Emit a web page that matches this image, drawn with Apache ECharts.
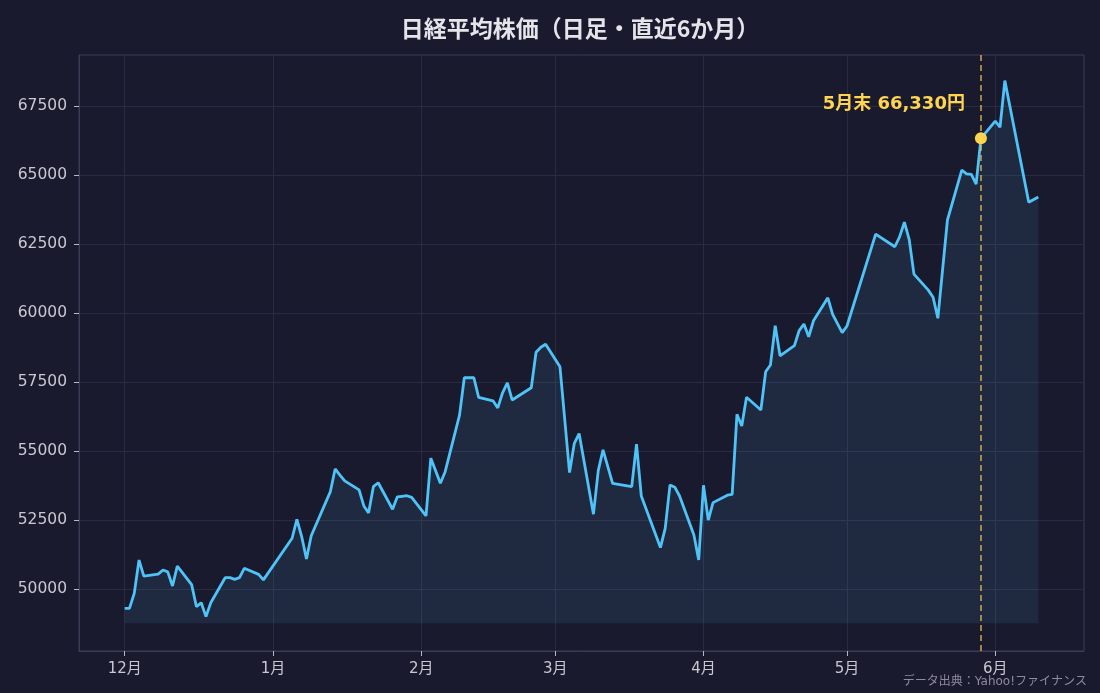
<!DOCTYPE html>
<html>
<head>
<meta charset="utf-8">
<script src="https://cdn.jsdelivr.net/npm/echarts@6/dist/echarts.min.js"></script>
<style>
  html, body { margin: 0; padding: 0; background: #1a1a2e; }
  #main { width: 1100px; height: 693px; }
</style>
</head>
<body>
<div id="main"></div>
<script>
let mychart = echarts.init(document.getElementById('main'));

// 日足の終値 (読み取り値)
let dates = [
  '2025-12-01', '2025-12-02', '2025-12-03', '2025-12-04', '2025-12-05',
  '2025-12-08', '2025-12-09', '2025-12-10', '2025-12-11', '2025-12-12',
  '2025-12-15', '2025-12-16', '2025-12-17', '2025-12-18', '2025-12-19',
  '2025-12-22', '2025-12-23', '2025-12-24', '2025-12-25', '2025-12-26',
  '2025-12-29', '2025-12-30',
  '2026-01-05', '2026-01-06', '2026-01-07', '2026-01-08', '2026-01-09',
  '2026-01-13', '2026-01-14', '2026-01-15', '2026-01-16',
  '2026-01-19', '2026-01-20', '2026-01-21', '2026-01-22', '2026-01-23',
  '2026-01-26', '2026-01-27', '2026-01-28', '2026-01-29', '2026-01-30',
  '2026-02-02', '2026-02-03', '2026-02-05', '2026-02-06',
  '2026-02-09', '2026-02-10', '2026-02-12', '2026-02-13',
  '2026-02-16', '2026-02-17', '2026-02-18', '2026-02-19', '2026-02-20',
  '2026-02-24', '2026-02-25', '2026-02-26', '2026-02-27',
  '2026-03-02', '2026-03-04', '2026-03-05', '2026-03-06',
  '2026-03-09', '2026-03-10', '2026-03-11', '2026-03-13',
  '2026-03-17', '2026-03-18', '2026-03-19',
  '2026-03-23', '2026-03-24', '2026-03-25', '2026-03-26', '2026-03-27',
  '2026-03-30', '2026-03-31', '2026-04-01', '2026-04-02', '2026-04-03',
  '2026-04-06', '2026-04-07', '2026-04-08', '2026-04-09', '2026-04-10',
  '2026-04-13', '2026-04-14', '2026-04-15', '2026-04-16', '2026-04-17',
  '2026-04-20', '2026-04-21', '2026-04-22', '2026-04-23', '2026-04-24',
  '2026-04-27', '2026-04-28', '2026-04-30', '2026-05-01',
  '2026-05-07', '2026-05-11', '2026-05-12', '2026-05-13', '2026-05-14', '2026-05-15',
  '2026-05-18', '2026-05-19', '2026-05-20', '2026-05-22',
  '2026-05-25', '2026-05-26', '2026-05-27', '2026-05-28', '2026-05-29',
  '2026-06-01', '2026-06-02', '2026-06-03', '2026-06-08', '2026-06-10'
];
let closes = [
  49300, 49300, 49840, 51050, 50470,
  50540, 50690, 50620, 50110, 50830,
  50160, 49360, 49500, 49000, 49500,
  50410, 50410, 50350, 50410, 50750,
  50530, 50330,
  51840, 52520, 51900, 51090, 51930,
  53530, 54350, 54130, 53920,
  53590, 53010, 52760, 53710, 53850,
  52890, 53340, 53360, 53380, 53320,
  52650, 54740, 53830, 54250,
  56300, 57655, 57655, 56945,
  56820, 56560, 57110, 57470, 56850,
  57290, 58580, 58760, 58870,
  58050, 54220, 55280, 55630,
  52710, 54290, 55040, 53830,
  53710, 55250, 53370,
  51500, 52200, 53770, 53690, 53370,
  51960, 51050, 53760, 52500, 53130,
  53400, 53430, 56330, 55905, 56945,
  56485, 57873, 58116, 59540, 58450,
  58815, 59360, 59600, 59140, 59720,
  60550, 59950, 59290, 59530,
  62860, 62400, 62760, 63290, 62670, 61410,
  60830, 60570, 59810, 63370,
  65180, 65040, 65020, 64670, 66330,
  66950, 66730, 68420, 64010, 64200
];

let yTicks = [50000, 52500, 55000, 57500, 60000, 62500, 65000, 67500];
let monthTicks = ['2025-12-01', '2026-01-01', '2026-02-01', '2026-03-01', '2026-04-01', '2026-05-01', '2026-06-01'];

let markDate = '2026-05-29';
let markValue = 66330;
let markLabel = '5月末 66,330円';

let dayMs = 24 * 3600 * 1000;
function toTime(s) {
  let p = s.split('-');
  return new Date(+p[0], +p[1] - 1, +p[2]).getTime();
}
let xMin = toTime(dates[0]) - 9.55 * dayMs;
let xMax = toTime(dates[dates.length - 1]) + 9.55 * dayMs;

let seriesData = dates.map((d, i) => [toTime(d), closes[i]]);

let fontFam = 'DejaVu Sans, "Noto Sans CJK JP", sans-serif';

let option = {
  backgroundColor: '#1a1a2e',
  title: {
    text: '日経平均株価（日足・直近6か月）',
    left: 575,
    textAlign: 'center',
    top: 12,
    textStyle: {
      color: '#e4e4ea',
      fontSize: 23,
      fontWeight: 'bold',
      fontFamily: '"Noto Sans CJK JP", sans-serif'
    }
  },
  grid: {
    left: 79,
    right: 16,
    top: 55,
    bottom: 42,
    show: true,
    borderColor: '#3a3b56',
    borderWidth: 1,
    backgroundColor: 'transparent'
  },
  xAxis: {
    type: 'value',
    min: xMin,
    max: xMax,
    axisLine: { show: true, lineStyle: { color: '#3a3b56' } },
    axisTick: {
      show: true,
      length: 5,
      lineStyle: { color: '#b8b8c4' },
      customValues: monthTicks.map(toTime)
    },
    axisLabel: {
      customValues: monthTicks.map(toTime),
      color: '#c8c8d2',
      fontSize: 15,
      fontFamily: fontFam,
      margin: 11,
      formatter: function (v) {
        return (new Date(v).getMonth() + 1) + '月';
      }
    },
    splitLine: { show: true, lineStyle: { color: '#2a2b42', width: 1 } }
  },
  yAxis: {
    type: 'value',
    min: 47754,
    max: 69348,
    axisLine: { show: true, lineStyle: { color: '#3a3b56' } },
    axisTick: {
      show: true,
      length: 5,
      lineStyle: { color: '#b8b8c4' },
      customValues: yTicks
    },
    axisLabel: {
      customValues: yTicks,
      color: '#c8c8d2',
      fontSize: 15.5,
      fontFamily: fontFam,
      margin: 12,
      formatter: function (v) { return String(v); }
    },
    splitLine: { show: true, lineStyle: { color: '#2a2b42', width: 1 } }
  },
  series: [
    {
      type: 'line',
      data: seriesData,
      showSymbol: false,
      smooth: false,
      lineStyle: { color: '#4fc3f7', width: 2.8 },
      itemStyle: { color: '#4fc3f7' },
      areaStyle: { color: 'rgba(79,195,247,0.14)', origin: 48760 },
      markLine: {
        silent: true,
        symbol: 'none',
        label: { show: false },
        lineStyle: { color: 'rgba(240,190,80,0.85)', type: [6, 4], width: 1.5 },
        data: [{ xAxis: toTime(markDate) }]
      },
      markPoint: {
        silent: true,
        symbol: 'circle',
        symbolSize: 12,
        itemStyle: { color: '#ffd54f' },
        label: {
          show: true,
          position: 'left',
          distance: 10,
          offset: [0, -34],
          formatter: markLabel,
          color: '#ffd54f',
          fontSize: 18,
          fontWeight: 'bold',
          fontFamily: fontFam
        },
        data: [{ coord: [toTime(markDate), markValue] }]
      }
    }
  ],
  graphic: [
    {
      type: 'text',
      right: 13,
      bottom: 5,
      style: {
        text: 'データ出典：Yahoo!ファイナンス',
        fill: '#8c8c9c',
        font: '12px ' + fontFam
      }
    }
  ]
};
mychart.setOption(option);
</script>
</body>
</html>
